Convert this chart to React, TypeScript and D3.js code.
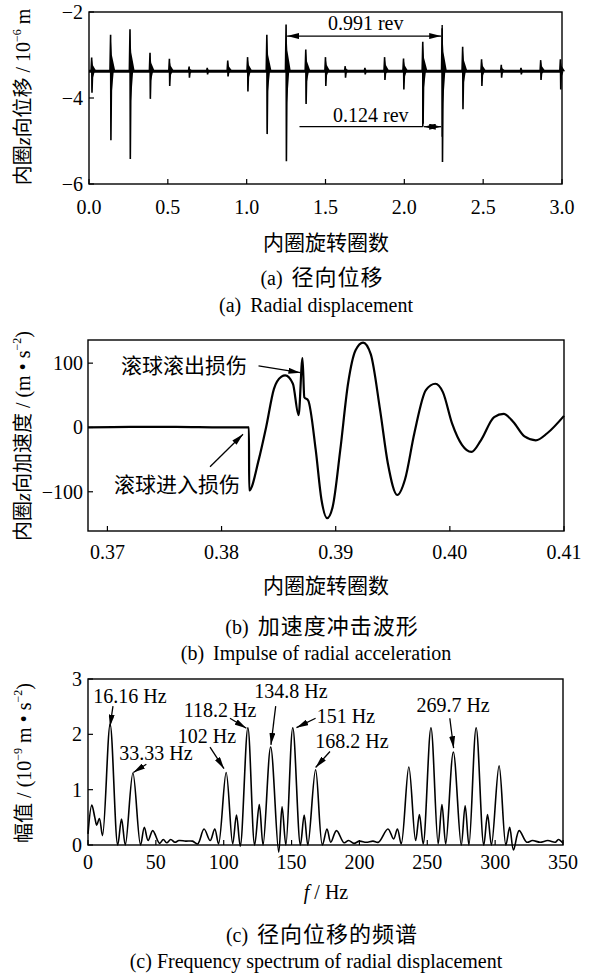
import React from 'react';
import * as d3 from 'd3';

const FONT = '"Liberation Serif", "Times New Roman", "Noto Sans CJK SC", serif';

// (a) radial displacement: impulse positions (rev) with their upper / lower extremes (10^-6 m)
const A_REV = [0.017, 0.137, 0.26, 0.387, 0.51, 0.635, 0.75, 0.88, 1.006, 1.128, 1.25, 1.375, 1.5,
  1.625, 1.75, 1.875, 1.995, 2.117, 2.24, 2.37, 2.49, 2.615, 2.74, 2.865, 2.99];
const A_UP = [-3.06, -2.53, -2.4, -2.95, -3.09, -3.27, -3.3, -3.13, -3.05, -2.53, -2.29, -2.87, -3.05,
  -3.26, -3.3, -3.05, -3.08, -2.69, -2.38, -2.81, -3.1, -3.23, -3.3, -3.12, -3.1];
const A_DOWN = [-3.88, -4.98, -5.42, -4.02, -3.72, -3.53, -3.45, -3.5, -3.85, -4.84, -5.47, -4.14, -3.72,
  -3.53, -3.45, -3.58, -3.8, -4.6, -5.49, -4.26, -3.72, -3.53, -3.45, -3.58, -3.8];
const A_BASE = -3.38;
const A_XTICKS = [0, 0.5, 1, 1.5, 2, 2.5, 3];
const A_YTICKS = [-2, -4, -6];

// (b) acceleration impulse
const B_REV = [0.3683, 0.372, 0.376, 0.38, 0.3824, 0.38242, 0.38326, 0.3839, 0.38459, 0.38525, 0.38558, 0.38625, 0.38675,
  0.38709, 0.38725, 0.38759, 0.38825, 0.38875, 0.38925, 0.38974, 0.3904, 0.39108, 0.39174, 0.3924,
  0.39307, 0.39389, 0.39457, 0.3954, 0.39607, 0.39689, 0.3979, 0.39873, 0.39939, 0.4002, 0.40106,
  0.40189, 0.40272, 0.40388, 0.40471, 0.40554, 0.40654, 0.40753, 0.40853, 0.41];
const B_ACC = [0, 0.8, 0.8, 0, 0, -98, -50, 0, 60, 79, 81, 68, 19,
  108, 47, 42, -35, -112, -141, -123, -35, 68, 120, 132,
  114, 27, -56, -105, -81, -9, 58, 68, 55, 6, -27,
  -38, -20, 16, 21, 9, -14, -20, -9, 18];
const B_XTICKS = [0.37, 0.38, 0.39, 0.4, 0.41];
const B_YTICKS = [100, 0, -100];

// (c) spectrum
const C_F = [0, 2.8, 5, 6.4, 8.4, 10.7, 16.3, 21.9, 24.7, 27.5, 33.1, 38.7, 41.5, 44.3, 47.7, 52.7, 55.5,
  58, 61, 64, 67, 72, 77, 80.8, 85.5, 90, 93.4, 96.2, 101.8, 106.6, 109.4, 112.2, 117.8, 122.8, 126.2,
  129, 134.6, 140.5, 143, 145.8, 150.9, 156.5, 159.3, 162, 167.7, 172.7, 176.1, 178.9, 183.1, 188.7,
  192, 196, 200, 205, 210, 214, 221, 225.2, 228, 230.8, 236.4, 241.4, 244.2, 247, 252.7, 258, 260.8,
  263.6, 269.2, 275, 277.9, 280.7, 286, 291.6, 294.4, 297.3, 302.9, 307.9, 310.7, 313.5, 317.7, 323.3,
  327.5, 333.1, 338.8, 344.4, 346.6, 350];
const C_AMP = [0.2, 0.72, 0.5, 0.36, 0.48, 0.17, 2.18, 0, 0.47, 0, 1.3, 0, 0.32, 0.08, 0.26, 0.03, 0.1,
  0.04, 0.1, 0.05, 0.08, 0.07, 0.07, 0.02, 0.29, 0.08, 0.29, 0.02, 1.31, 0.02, 0.54, -0.02, 2.12, 0, 0.73,
  0, 1.77, -0.13, 0.69, 0, 2.12, 0, 0.54, 0, 1.36, 0, 0.29, 0.05, 0.26, 0.04,
  0.08, 0.03, 0.07, 0.05, 0.07, 0.05, 0.29, 0.11, 0.29, 0.02, 1.41, 0.08, 0.55, 0.02, 2.12, 0.02, 0.73,
  0.02, 1.68, 0, 0.71, 0, 2.12, 0, 0.55, 0, 1.43, 0, 0.32, -0.09, 0.26, 0.05,
  0.08, 0.05, 0.08, 0.05, 0.1, 0.03];
const C_XTICKS = [0, 50, 100, 150, 200, 250, 300, 350];
const C_YTICKS = [0, 1, 2, 3];
const C_LABELS = ['16.16 Hz', '33.33 Hz', '102 Hz', '118.2 Hz', '134.8 Hz', '151 Hz', '168.2 Hz', '269.7 Hz'];

// annotation geometry (data units): text anchor, arrow start, arrow tip
const C_NOTES = [
  { tx: 30.9, ty: 2.57, x1: 18.4, y1: 2.51, x2: 16.2, y2: 2.14 },
  { tx: 50.1, ty: 1.54, x1: 43.0, y1: 1.46, x2: 33.4, y2: 1.31 },
  { tx: 87.7, ty: 1.85, x1: 89.9, y1: 1.77, x2: 100.2, y2: 1.38 },
  { tx: 97.3, ty: 2.32, x1: 104.6, y1: 2.29, x2: 116.7, y2: 2.11 },
  { tx: 149.6, ty: 2.65, x1: 138.3, y1: 2.51, x2: 134.8, y2: 1.81 },
  { tx: 190.1, ty: 2.2, x1: 167.7, y1: 2.29, x2: 153.6, y2: 2.12 },
  { tx: 194.5, ty: 1.75, x1: 178.3, y1: 1.69, x2: 167.7, y2: 1.4 },
  { tx: 269, ty: 2.41, x1: 266.6, y1: 2.29, x2: 269.4, y2: 1.75 },
];

type Sc = d3.ScaleLinear<number, number>;

function Frame({ x, y, xt, yt, xf, yf, xlab, ylabX }: {
  x: Sc; y: Sc; xt: number[]; yt: number[]; xf: (v: number) => string; yf: (v: number) => string;
  xlab: number; ylabX: number;
}) {
  const [x0, x1] = x.range();
  const [y0, y1] = y.range();
  return (
    <g>
      <rect x={x0} y={y1} width={x1 - x0} height={y0 - y1} fill="none" stroke="#000" strokeWidth={1.4} />
      {xt.map(v => (
        <g key={'x' + v}>
          <line x1={x(v)} x2={x(v)} y1={y0} y2={y0 - 5} stroke="#000" strokeWidth={1.2} />
          <text x={x(v)} y={xlab} textAnchor="middle" fontSize={20}>{xf(v)}</text>
        </g>
      ))}
      {yt.map(v => (
        <g key={'y' + v}>
          <line x1={x0} x2={x0 + 5} y1={y(v)} y2={y(v)} stroke="#000" strokeWidth={1.2} />
          <text x={ylabX} y={y(v)} dy="0.35em" textAnchor="end" fontSize={20}>{yf(v)}</text>
        </g>
      ))}
    </g>
  );
}

function Caption({ y, tag, zh, en, yEn, gapEn }: { y: number; tag: string; zh: string; en: string; yEn: number; gapEn: number }) {
  return (
    <g>
      <text x={322} y={y} textAnchor="middle" fontSize={20}>{tag}<tspan dx={9} fontSize={22} letterSpacing={1}>{zh}</tspan></text>
      <text x={316} y={yEn} textAnchor="middle" fontSize={20}>{tag}<tspan dx={gapEn}>{en}</tspan></text>
    </g>
  );
}

export default function App() {
  // panel (a)
  const ax = d3.scaleLinear().domain([0, 3]).range([89, 562]);
  const ay = d3.scaleLinear().domain([-6, -2]).range([184, 12]);
  const aLine = d3.line<[number, number]>().x(d => ax(d[0])).y(d => ay(d[1]));

  // panel (b)
  const bx = d3.scaleLinear().domain([0.3683, 0.41]).range([88, 564]);
  const by = d3.scaleLinear().domain([-161, 136]).range([531, 340]);
  const bLine = d3.line<number>().x((_, i) => bx(B_REV[i])).y(d => by(d)).curve(d3.curveMonotoneX);

  // panel (c)
  const cx = d3.scaleLinear().domain([0, 350]).range([88, 563]);
  const cy = d3.scaleLinear().domain([0, 3]).range([845, 679]);
  const cLine = d3.line<number>().x((_, i) => cx(C_F[i])).y(d => cy(d)).curve(d3.curveCatmullRom.alpha(0.5));

  const f1 = d3.format('.1f');
  const f2 = d3.format('.2f');
  const f0 = d3.format('d');

  const arrow = (x1: number, y1: number, x2: number, y2: number, key: string, both = false) => (
    <line key={key} x1={x1} y1={y1} x2={x2} y2={y2} stroke="#000" strokeWidth={1.3}
      markerEnd="url(#ah)" markerStart={both ? 'url(#ah)' : undefined} />
  );

  return (
    <svg width={595} height={975} style={{ display: 'block', position: 'absolute', left: 0, top: 0, background: '#fff' }}
      fontFamily={FONT}>
      <defs>
        <marker id="ah" viewBox="0 0 12 6" refX="12" refY="3" markerWidth="12" markerHeight="6"
          markerUnits="userSpaceOnUse" orient="auto-start-reverse">
          <path d="M0,0 L12,3 L0,6 Z" fill="#000" />
        </marker>
      </defs>
      <rect width={595} height={975} fill="#fff" />

      {/* ---------- (a) ---------- */}
      <line x1={ax(0)} x2={ax(3)} y1={ay(A_BASE)} y2={ay(A_BASE)} stroke="#000" strokeWidth={3} />
      {A_REV.map((p, i) => {
        const u = A_UP[i], dn = A_DOWN[i];
        return (
          <g key={'s' + i}>
            <path d={aLine([[p, u], [p + 0.008, A_BASE + (u - A_BASE) * 0.45], [p + 0.03, A_BASE], [p, A_BASE]]) || ''} fill="#000" />
            <path d={aLine([[p, dn], [p + 0.006, A_BASE + (dn - A_BASE) * 0.35], [p + 0.02, A_BASE], [p, A_BASE]]) || ''} fill="#000" />
            <path d={aLine([[p - 0.004, A_BASE], [p, u], [p + 0.002, dn], [p + 0.006, A_BASE]]) || ''} fill="none" stroke="#000" strokeWidth={1.6} />
          </g>
        );
      })}
      {/* dimension lines */}
      <text x={ax(1.755)} y={ay(-2.42)} textAnchor="middle" fontSize={20}>0.991 rev</text>
      {arrow(ax(1.25) + 1, ay(-2.56), ax(2.24) - 1, ay(-2.56), 'a1', true)}
      <line x1={ax(2.24)} x2={ax(2.24)} y1={ay(-2.3)} y2={ay(-4.9)} stroke="#000" strokeWidth={1.4} />
      <text x={ax(1.787)} y={ay(-4.56)} textAnchor="middle" fontSize={20}>0.124 rev</text>
      <line x1={ax(1.335)} x2={ax(2.117)} y1={ay(-4.667)} y2={ay(-4.667)} stroke="#000" strokeWidth={1.3} />
      <line x1={ax(2.117)} x2={ax(2.117)} y1={ay(A_BASE)} y2={ay(-4.667)} stroke="#000" strokeWidth={1.6} />
      {arrow(ax(2.117) + 1, ay(-4.667), ax(2.24) - 1, ay(-4.667), 'a2', true)}

      <Frame x={ax} y={ay} xt={A_XTICKS} yt={A_YTICKS} xf={f1} yf={f0} xlab={214} ylabX={83} />
      <text transform="translate(30,97) rotate(-90)" textAnchor="middle" fontSize={20}>
        内圈<tspan fontStyle="italic">z</tspan>向位移 / 10<tspan fontSize={12} dy={-9}>−6</tspan><tspan dy={9}> m</tspan>
      </text>
      <text x={326} y={250} textAnchor="middle" fontSize={21}>内圈旋转圈数</text>
      <Caption y={285} tag="(a)" zh="径向位移" en="Radial displacement" yEn={312} gapEn={9} />

      {/* ---------- (b) ---------- */}
      <path d={bLine(B_ACC) || ''} fill="none" stroke="#000" strokeWidth={2.2} strokeLinejoin="round" />
      <Frame x={bx} y={by} xt={B_XTICKS} yt={B_YTICKS} xf={f2} yf={f0} xlab={559} ylabX={83} />
      <text x={bx(0.38223)} y={by(85.4)} textAnchor="end" fontSize={21}>滚球滚出损伤</text>
      {arrow(bx(0.38324), by(95.6), bx(0.38691), by(85.2), 'b1')}
      <text x={bx(0.38162)} y={by(-99.7)} textAnchor="end" fontSize={21}>滚球进入损伤</text>
      {arrow(bx(0.37899), by(-61), bx(0.38188), by(-10.6), 'b2')}
      <text transform="translate(30,436) rotate(-90)" textAnchor="middle" fontSize={20}>
        内圈<tspan fontStyle="italic">z</tspan>向加速度 / (m • s<tspan fontSize={12} dy={-9}>−2</tspan><tspan dy={9}>)</tspan>
      </text>
      <text x={326} y={593} textAnchor="middle" fontSize={21}>内圈旋转圈数</text>
      <Caption y={634} tag="(b)" zh="加速度冲击波形" en="Impulse of radial acceleration" yEn={660} gapEn={9} />

      {/* ---------- (c) ---------- */}
      <path d={cLine(C_AMP) || ''} fill="none" stroke="#000" strokeWidth={1.6} strokeLinejoin="round" />
      <Frame x={cx} y={cy} xt={C_XTICKS} yt={C_YTICKS} xf={f0} yf={f0} xlab={869} ylabX={82} />
      {C_NOTES.map((n, i) => (
        <g key={'n' + i}>
          <text x={cx(n.tx)} y={cy(n.ty)} textAnchor="middle" fontSize={20}>{C_LABELS[i]}</text>
          {arrow(cx(n.x1), cy(n.y1), cx(n.x2), cy(n.y2), 'c' + i)}
        </g>
      ))}
      <text transform="translate(31,763) rotate(-90)" textAnchor="middle" fontSize={20}>
        幅值 / (10<tspan fontSize={12} dy={-9}>−9</tspan><tspan dy={9}> m • s</tspan><tspan fontSize={12} dy={-9}>−2</tspan><tspan dy={9}>)</tspan>
      </text>
      <text x={326} y={899} textAnchor="middle" fontSize={20}><tspan fontStyle="italic">f</tspan> / Hz</text>
      <Caption y={942} tag="(c)" zh="径向位移的频谱" en="Frequency spectrum of radial displacement" yEn={968} gapEn={5} />
    </svg>
  );
}
